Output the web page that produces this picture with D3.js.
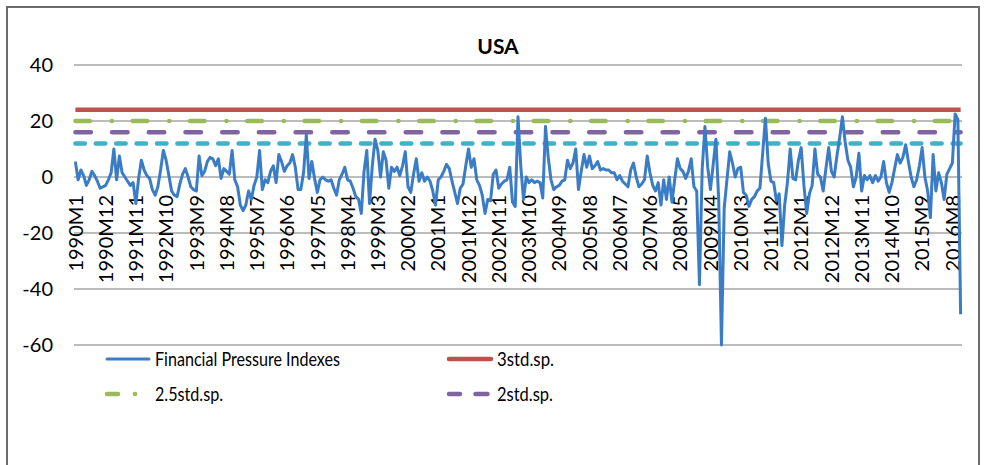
<!DOCTYPE html>
<html>
<head>
<meta charset="utf-8">
<script src="https://cdn.jsdelivr.net/npm/d3@7"></script>
<style>
  body { margin: 0; background: #fff; }
  text { font-family: Lato, "Liberation Sans", sans-serif; fill: #000; }
</style>
</head>
<body>
<div id="usa_chart"></div>
<script>

// monthly index, 1990M1 .. 2016M11
var startYear = 1990;
var fpi = [
	5.5, -1, 2.5, 0.5, -3, -1, 2, 0.5, -1.5, -4, -3.5, -3,          // 1990
	-1, 1.5, 10, -1, 7.5, 1.5, 0, -1.5, -3, -2, -9.5, -0.5,         // 1991
	6, 2.5, 0.5, -0.5, -4.5, -6.5, -3.5, 2.5, 9.5, 6, 0.5, -5,      // 1992
	-6.5, -7, -2.5, 1, 3, 0, -3.5, -4.5, -5, 7.5, 0.5, 2,           // 1993
	5.5, 7, 6.5, 4, 6.5, -0.5, 3, 2, 1, 9.5, -1, -3.5,              // 1994
	-10, -12, -10, -5, -8, -3, 0, 9.5, -4.5, -1, -2, 2,             // 1995
	4, -2, 8, 5.5, 2, 4, 5, 8, 3.5, -4.5, -4.5, 1.5,                // 1996
	15, -0.5, 5.5, -0.5, -5.5, -1, 0, -1, -1.5, -1, -4, -6.5,       // 1997
	-1, 1, 3.5, -1, -1.5, -4, -7, -8, -13, 2, 9.5, -9.5,            // 1998
	4, 13.5, 9.5, 0, 9, 6, -4, 3.5, 2, 3.5, 0.5, 4,                 // 1999
	9, -3.5, -5.5, 1, 6.5, -1.5, 1.5, -1.5, 0, -1.5, -5, -10,       // 2000
	-1, 0, 2, 4.5, 3, -1.5, -5.5, -9.5, -4, -2.5, 4, 10,            // 2001
	3.5, 6.5, -1, -3, -6.5, -13, -8, -8.5, 1, 2.5, -4, -2.5,        // 2002
	-1.5, -1, 3.5, -9, -10.5, 21.5, 4, -8, 0, -2, -1, -2,           // 2003
	-1.5, -2, -7.5, 18, 7, -1, -4.5, -3.5, -3, -1.5, -1, 6,         // 2004
	3, 5, 10, -4.5, 2, 8, 3.5, 7.5, 3, 4, 5.5, 2.5,                 // 2005
	3, 2.5, 2.5, 1.5, 1.5, -1, 0.5, -1.5, -2.5, -3.5, 2.5, 5,       // 2006
	0, -3.5, -2.5, -1, 7.5, 1.5, -3, -5, -2, -10, -1, -8,           // 2007
	0, -9, -1, 6.5, 3, 2, -0.5, 2, 6.5, -3.5, -5, -38.5,            // 2008
	3, 18, 3.5, -4.5, 4.5, 13.5, -8, -60, -11, -1, 9, 5,            // 2009
	0, 3, 3.5, -5.5, -6.5, -10.5, -8, -7, -5, -4, 8.5, 21,          // 2010
	5, -1.5, -2, -8.5, -6, -24.5, -10, -2, 10, -0.5, -1, 6,         // 2011
	10.5, -3, -13, -6, -3, 10, 1, 0, -5, 3, 10.5, 2,                // 2012
	0, 7.5, 14, 21.5, 12.5, 6, 3.5, -3.5, 0, 8.5, -5, 0.5,          // 2013
	-1, 0.5, -2, 0.5, -1.5, 0, 5.5, -2, -5.5, -2, 3, 8,             // 2014
	5, 7, 11.5, 5.5, 0, -3.5, -1, 4, 10.5, 0, -5, -14.5,            // 2015
	8, -5, 1.5, -2, -8, 1, 3, 5, 22.5, 20.5, -49                    // 2016
];

// every 11th month is labelled
var tickLabels = [
	"1990M1", "1990M12", "1991M11", "1992M10", "1993M9", "1994M8", "1995M7",
	"1996M6", "1997M5", "1998M4", "1999M3", "2000M2", "2001M1", "2001M12",
	"2002M11", "2003M10", "2004M9", "2005M8", "2006M7", "2007M6", "2008M5",
	"2009M4", "2010M3", "2011M2", "2012M1", "2012M12", "2013M11", "2014M10",
	"2015M9", "2016M8"
];

// std. deviation bands (the 1.5 band has no legend entry)
var levelNames = ["3std.sp.", "2.5std.sp.", "2std.sp.", "1.5std.sp."];
var levelValues = [24, 20, 16, 12];

var yTicks = [40, 20, 0, -20, -40, -60];
var chartTitle = "USA";
var seriesName = "Financial Pressure Indexes";

function UsaChart() {

	var chart_width = 987,
			chart_height = 465;

	var plot = {left: 74, right: 962, top: 65, bottom: 345};

	var blue = "#3a7cc6";
	var levelStyle = [
		{color: "#c0504d", dash: null},
		{color: "#9bbb59", dash: "14.5,22,0.1,20.7"},
		{color: "#8064a2", dash: "15.5,21.2"},
		{color: "#41b0c8", dash: "9.5,10.9"}
	];

	function my(selection) {

		var svg = selection.append("svg")
				.attr("width", chart_width)
				.attr("height", chart_height);

		// outer frame
		svg.append("rect")
			.attr("x", 7).attr("y", 7)
			.attr("width", 972).attr("height", 470)
			.attr("fill", "none")
			.attr("stroke", "#6b6b6b")
			.attr("stroke-width", 2);

		var categories = fpi.map(function (d, i) {
			return (startYear + Math.floor(i / 12)) + "M" + (i % 12 + 1);
		});

		var x = d3.scaleBand()
			.domain(categories)
			.range([plot.left, plot.right]);
		var half = x.bandwidth() / 2;

		var y = d3.scaleLinear()
			.domain([-60, 40])
			.range([plot.bottom, plot.top]);

		// gridlines
		svg.append("g")
			.selectAll("line")
			.data(yTicks)
			.enter()
			.append("line")
				.attr("x1", plot.left)
				.attr("x2", plot.right)
				.attr("y1", function (d) { return y(d); })
				.attr("y2", function (d) { return y(d); })
				.attr("stroke", "#a6a6a6")
				.attr("stroke-width", 1.6);

		// y labels
		svg.append("g")
			.selectAll("text")
			.data(yTicks)
			.enter()
			.append("text")
				.attr("x", 53)
				.attr("y", function (d) { return y(d); })
				.attr("dy", "0.35em")
				.attr("text-anchor", "end")
				.style("font-size", "20px")
				.text(function (d) { return d; });

		// category axis sits on the zero line
		var xAxis = svg.append("g")
			.attr("transform", "translate(0," + y(0) + ")")
			.call(d3.axisBottom(x).tickValues(tickLabels).tickSize(0));
		xAxis.select(".domain").remove();
		xAxis.selectAll("text")
			.attr("x", -18)
			.attr("y", 0)
			.attr("dy", "0.36em")
			.attr("transform", "rotate(-90)")
			.style("text-anchor", "end")
			.style("font-size", "20px")
			.style("font-family", "Lato, sans-serif")
			.attr("fill", "#000");

		var line = d3.line()
			.x(function (d, i) { return x(categories[i]) + half; })
			.y(function (d) { return y(d); });

		// level lines
		svg.append("g")
			.selectAll("path")
			.data(levelValues)
			.enter()
			.append("path")
				.attr("d", function (v) { return line(categories.map(function () { return v; })); })
				.attr("fill", "none")
				.attr("stroke", function (v, i) { return levelStyle[i].color; })
				.attr("stroke-width", 4.5)
				.attr("stroke-linecap", function (v, i) { return i == 0 ? "butt" : "round"; })
				.attr("stroke-dasharray", function (v, i) { return levelStyle[i].dash; });

		// the index itself
		svg.append("path")
			.datum(fpi)
			.attr("d", line)
			.attr("fill", "none")
			.attr("stroke", blue)
			.attr("stroke-width", 3)
			.attr("stroke-linejoin", "round");

		// title
		svg.append("text")
			.attr("x", 498)
			.attr("y", 54)
			.attr("text-anchor", "middle")
			.style("font-size", "21px")
			.style("font-weight", "bold")
			.text(chartTitle);

		// legend, two columns; text widths squeezed to the narrower original face
		var legend = [
			{name: seriesName, color: blue, width: 3, lx: 105, ly: 359, dashLeg: null, len: 185},
			{name: levelNames[0], color: levelStyle[0].color, width: 4.5, lx: 447, ly: 359, dashLeg: null, len: 57},
			{name: levelNames[1], color: levelStyle[1].color, width: 4.5, lx: 105, ly: 394, dashLeg: "11,17,0.1,16,0.1,20", len: 68},
			{name: levelNames[2], color: levelStyle[2].color, width: 4.5, lx: 447, ly: 394, dashLeg: "11,15.5,12,20", len: 56}
		];

		var items = svg.append("g")
			.selectAll("g")
			.data(legend)
			.enter()
			.append("g");

		items.append("line")
			.attr("x1", function (d) { return d.lx + 2; })
			.attr("x2", function (d) { return d.lx + 44; })
			.attr("y1", function (d) { return d.ly; })
			.attr("y2", function (d) { return d.ly; })
			.attr("stroke", function (d) { return d.color; })
			.attr("stroke-width", function (d) { return d.width; })
			.attr("stroke-linecap", "round")
			.attr("stroke-dasharray", function (d) { return d.dashLeg; });

		items.append("text")
			.attr("x", function (d) { return d.lx + 50; })
			.attr("y", function (d) { return d.ly; })
			.attr("dy", "0.35em")
			.attr("textLength", function (d) { return d.len; })
			.attr("lengthAdjust", "spacingAndGlyphs")
			.style("font-size", "19px")
			.text(function (d) { return d.name; });
	}

	return my;
}

var chart = UsaChart();
chart(d3.select("#usa_chart"));

</script>
</body>
</html>
